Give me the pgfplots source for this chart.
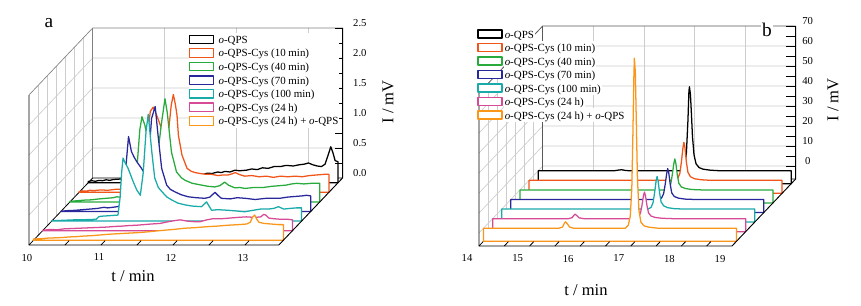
\documentclass[border=0pt]{standalone}
\usepackage{pgfplots}
\pgfplotsset{compat=1.18}
\usepackage{fontspec}
\setmainfont{Liberation Serif}
\definecolor{cK}{RGB}{0,0,0}
\definecolor{cR}{RGB}{240,85,25}
\definecolor{cG}{RGB}{40,170,60}
\definecolor{cB}{RGB}{40,40,155}
\definecolor{cC}{RGB}{25,170,170}
\definecolor{cP}{RGB}{215,75,150}
\definecolor{cO}{RGB}{250,150,25}
\definecolor{gridc}{RGB}{205,205,205}
\tikzset{
  wf/.style={line width=0.95pt, fill=white, line join=round},
  ticklab/.style={font=\fontsize{8}{9}\selectfont, inner sep=0pt},
}
\begin{document}
\begin{tikzpicture}[line join=round]
\useasboundingbox (0,0) rectangle (645.75pt,228.75pt);
% ===================== panel a =====================
\begin{axis}[
  at={(21.75pt,45pt)}, anchor=south west,
  x={(54pt,0pt)}, y={(6.825pt,7.18pt)}, z={(0pt,45pt)},
  xmin=10, xmax=13.47, ymin=0, ymax=7, zmin=0, zmax=2.5,
  hide axis, clip=false,
  legend cell align=left,
  legend style={at={(0.508,0.98)}, anchor=north west, draw=none, fill=white,
    inner sep=0pt, row sep=0pt, font=\fontsize{8.2}{10.7}\selectfont,
    nodes={inner sep=0.6pt},
    /tikz/every odd column/.append style={column sep=3pt}},
  legend image code/.code={\draw[#1] (0pt,-3.2pt) rectangle (18pt,3.2pt);},
]
\pgfplotsinvokeforeach{1,2,3,4,5,6}{\draw[gridc,line width=0.5pt] (axis cs:10,#1,0) -- (axis cs:10,#1,2.5);}
\pgfplotsinvokeforeach{0.5,1,1.5,2}{\draw[gridc,line width=0.5pt] (axis cs:10,0,#1) -- (axis cs:10,7,#1) -- (axis cs:13.47,7,#1);}
\pgfplotsinvokeforeach{11,12,13}{\draw[gridc,line width=0.5pt] (axis cs:#1,7,0) -- (axis cs:#1,7,2.5);}
\draw[gray,line width=0.5pt] (axis cs:10,0,2.5) -- (axis cs:10,7,2.5) -- (axis cs:13.47,7,2.5);
\draw[gray,line width=0.5pt] (axis cs:10,7,0) -- (axis cs:10,7,2.5);
\draw[black,line width=0.6pt] (axis cs:13.47,7,0) -- (axis cs:10,7,0) -- (axis cs:10,0,0);

\addplot3[wf, draw=cK] coordinates {(10,6.5,0) (10,6.5,0.02) (10.05,6.5,0.035) (10.1,6.5,0.025) (10.15,6.5,0.04) (10.2,6.5,0.035) (10.25,6.5,0.05) (10.3,6.5,0.04) (10.35,6.5,0.055) (10.42,6.5,0.06) (10.5,6.5,0.07) (10.6,6.5,0.08) (10.7,6.5,0.09) (10.8,6.5,0.1) (10.9,6.5,0.11) (11.0,6.5,0.12) (11.1,6.5,0.14) (11.2,6.5,0.15) (11.3,6.5,0.17) (11.35,6.5,0.17) (11.42,6.5,0.14) (11.5,6.5,0.13) (11.55,6.5,0.15) (11.6,6.5,0.14) (11.65,6.5,0.16) (11.72,6.5,0.155) (11.8,6.5,0.18) (11.85,6.5,0.17) (11.9,6.5,0.19) (11.97,6.5,0.18) (12.04,6.5,0.21) (12.1,6.5,0.2) (12.2,6.5,0.21) (12.27,6.5,0.23) (12.35,6.5,0.22) (12.42,6.5,0.25) (12.5,6.5,0.24) (12.58,6.5,0.27) (12.67,6.5,0.27) (12.75,6.5,0.29) (12.85,6.5,0.28) (12.93,6.5,0.3) (13.0,6.5,0.31) (13.06,6.5,0.33) (13.12,6.5,0.3) (13.18,6.5,0.28) (13.24,6.5,0.27) (13.29,6.5,0.31) (13.33,6.5,0.45) (13.37,6.5,0.6) (13.4,6.5,0.5) (13.43,6.5,0.37) (13.45,6.5,0.36) (13.47,6.5,0.35) (13.47,6.5,0)} -- cycle;
\addlegendentry{\strut\textit{o}-QPS}
\addplot3[wf, draw=cR] coordinates {(10,5.5,0) (10,5.5,0.01) (10.05,5.5,0.025) (10.1,5.5,0.02) (10.15,5.5,0.035) (10.2,5.5,0.03) (10.3,5.5,0.04) (10.4,5.5,0.035) (10.5,5.5,0.05) (10.6,5.5,0.055) (10.7,5.5,0.06) (10.8,5.5,0.08) (10.86,5.5,0.15) (10.9,5.5,0.4) (10.95,5.5,0.95) (10.99,5.5,1.35) (11.03,5.5,1.42) (11.08,5.5,1.28) (11.15,5.5,1.05) (11.18,5.5,0.92) (11.21,5.5,0.85) (11.25,5.5,1.1) (11.28,5.5,1.45) (11.31,5.5,1.63) (11.34,5.5,1.45) (11.36,5.5,1.29) (11.38,5.5,0.95) (11.43,5.5,0.62) (11.5,5.5,0.4) (11.56,5.5,0.35) (11.61,5.5,0.33) (11.7,5.5,0.31) (11.77,5.5,0.3) (11.84,5.5,0.3) (11.93,5.5,0.28) (12.0,5.5,0.29) (12.07,5.5,0.29) (12.13,5.5,0.31) (12.17,5.5,0.33) (12.22,5.5,0.3) (12.3,5.5,0.27) (12.4,5.5,0.28) (12.5,5.5,0.26) (12.6,5.5,0.27) (12.7,5.5,0.25) (12.8,5.5,0.27) (12.9,5.5,0.26) (13.0,5.5,0.27) (13.1,5.5,0.26) (13.2,5.5,0.28) (13.3,5.5,0.29) (13.4,5.5,0.3) (13.47,5.5,0.3) (13.47,5.5,0)} -- cycle;
\addlegendentry{\strut\textit{o}-QPS-Cys (10 min)}
\addplot3[wf, draw=cG] coordinates {(10,4.5,0) (10,4.5,0.01) (10.1,4.5,0.02) (10.2,4.5,0.03) (10.3,4.5,0.035) (10.4,4.5,0.05) (10.5,4.5,0.06) (10.6,4.5,0.07) (10.65,4.5,0.085) (10.72,4.5,0.08) (10.8,4.5,0.1) (10.87,4.5,0.12) (10.91,4.5,0.3) (10.94,4.5,0.72) (10.97,4.5,1.2) (11.0,4.5,1.42) (11.04,4.5,1.28) (11.07,4.5,1.11) (11.12,4.5,0.85) (11.18,4.5,0.72) (11.23,4.5,0.9) (11.27,4.5,1.3) (11.32,4.5,1.72) (11.35,4.5,1.5) (11.37,4.5,1.28) (11.41,4.5,0.83) (11.48,4.5,0.5) (11.55,4.5,0.4) (11.6,4.5,0.36) (11.7,4.5,0.31) (11.83,4.5,0.28) (11.92,4.5,0.26) (12.01,4.5,0.25) (12.08,4.5,0.27) (12.15,4.5,0.33) (12.2,4.5,0.28) (12.29,4.5,0.235) (12.36,4.5,0.24) (12.43,4.5,0.225) (12.55,4.5,0.24) (12.68,4.5,0.24) (12.8,4.5,0.26) (12.9,4.5,0.27) (13.0,4.5,0.28) (13.08,4.5,0.3) (13.15,4.5,0.31) (13.25,4.5,0.3) (13.35,4.5,0.31) (13.47,4.5,0.31) (13.47,4.5,0)} -- cycle;
\addlegendentry{\strut\textit{o}-QPS-Cys (40 min)}
\addplot3[wf, draw=cB] coordinates {(10,3.5,0) (10,3.5,0.005) (10.1,3.5,0.015) (10.2,3.5,0.02) (10.3,3.5,0.03) (10.4,3.5,0.04) (10.5,3.5,0.05) (10.6,3.5,0.07) (10.65,3.5,0.06) (10.72,3.5,0.07) (10.78,3.5,0.08) (10.84,3.5,0.1) (10.87,3.5,0.3) (10.9,3.5,0.7) (10.94,3.5,1.25) (10.98,3.5,1.0) (11.02,3.5,0.9) (11.06,3.5,0.82) (11.12,3.5,0.72) (11.17,3.5,0.62) (11.22,3.5,0.9) (11.26,3.5,1.55) (11.31,3.5,1.75) (11.35,3.5,1.27) (11.4,3.5,0.72) (11.47,3.5,0.44) (11.52,3.5,0.37) (11.58,3.5,0.33) (11.67,3.5,0.28) (11.77,3.5,0.245) (11.88,3.5,0.23) (12.0,3.5,0.22) (12.07,3.5,0.24) (12.14,3.5,0.32) (12.19,3.5,0.26) (12.23,3.5,0.22) (12.35,3.5,0.21) (12.45,3.5,0.23) (12.56,3.5,0.22) (12.7,3.5,0.2) (12.85,3.5,0.22) (13.04,3.5,0.22) (13.15,3.5,0.24) (13.25,3.5,0.25) (13.35,3.5,0.26) (13.41,3.5,0.27) (13.47,3.5,0.26) (13.47,3.5,0)} -- cycle;
\addlegendentry{\strut\textit{o}-QPS-Cys (70 min)}
\addplot3[wf, draw=cC] coordinates {(10,2.5,0) (10,2.5,0.005) (10.1,2.5,0.01) (10.2,2.5,0.015) (10.3,2.5,0.02) (10.4,2.5,0.02) (10.5,2.5,0.025) (10.62,2.5,0.03) (10.65,2.5,0.07) (10.68,2.5,0.08) (10.8,2.5,0.09) (10.92,2.5,0.1) (10.95,2.5,0.4) (10.97,2.5,0.8) (10.99,2.5,1.05) (11.02,2.5,0.97) (11.06,2.5,0.88) (11.13,2.5,0.66) (11.18,2.5,0.52) (11.23,2.5,0.43) (11.27,2.5,0.8) (11.31,2.5,1.5) (11.34,2.5,1.78) (11.37,2.5,1.4) (11.39,2.5,1.15) (11.43,2.5,0.72) (11.48,2.5,0.56) (11.53,2.5,0.49) (11.6,2.5,0.4) (11.67,2.5,0.35) (11.75,2.5,0.3) (11.85,2.5,0.27) (11.95,2.5,0.25) (12.08,2.5,0.24) (12.15,2.5,0.32) (12.22,2.5,0.18) (12.3,2.5,0.19) (12.45,2.5,0.18) (12.55,2.5,0.17) (12.68,2.5,0.155) (12.8,2.5,0.18) (12.9,2.5,0.2) (13.0,2.5,0.2) (13.08,2.5,0.21) (13.15,2.5,0.24) (13.22,2.5,0.2) (13.3,2.5,0.21) (13.4,2.5,0.22) (13.47,2.5,0.22) (13.47,2.5,0)} -- cycle;
\addlegendentry{\strut\textit{o}-QPS-Cys (100 min)}
\addplot3[wf, draw=cP] coordinates {(10,1.5,0) (10,1.5,0.005) (10.1,1.5,0.02) (10.2,1.5,0.015) (10.3,1.5,0.03) (10.4,1.5,0.035) (10.5,1.5,0.04) (10.6,1.5,0.045) (10.7,1.5,0.05) (10.8,1.5,0.055) (10.9,1.5,0.06) (11.0,1.5,0.07) (11.1,1.5,0.075) (11.2,1.5,0.085) (11.3,1.5,0.09) (11.4,1.5,0.1) (11.5,1.5,0.11) (11.63,1.5,0.12) (11.75,1.5,0.15) (11.85,1.5,0.17) (11.91,1.5,0.18) (12.0,1.5,0.16) (12.1,1.5,0.15) (12.19,1.5,0.15) (12.28,1.5,0.18) (12.37,1.5,0.2) (12.5,1.5,0.2) (12.6,1.5,0.21) (12.7,1.5,0.22) (12.83,1.5,0.23) (12.95,1.5,0.22) (13.03,1.5,0.23) (13.07,1.5,0.27) (13.1,1.5,0.26) (13.14,1.5,0.21) (13.2,1.5,0.2) (13.3,1.5,0.19) (13.4,1.5,0.19) (13.47,1.5,0.18) (13.47,1.5,0)} -- cycle;
\addlegendentry{\strut\textit{o}-QPS-Cys (24 h)}
\addplot3[wf, draw=cO] coordinates {(10,0.5,0) (10,0.5,0.02) (10.1,0.5,0.025) (10.2,0.5,0.035) (10.3,0.5,0.04) (10.4,0.5,0.045) (10.5,0.5,0.055) (10.6,0.5,0.06) (10.7,0.5,0.07) (10.8,0.5,0.075) (10.92,0.5,0.087) (11.05,0.5,0.1) (11.2,0.5,0.11) (11.35,0.5,0.12) (11.5,0.5,0.13) (11.63,0.5,0.145) (11.76,0.5,0.16) (11.85,0.5,0.17) (11.95,0.5,0.18) (12.1,0.5,0.2) (12.25,0.5,0.21) (12.4,0.5,0.225) (12.55,0.5,0.235) (12.7,0.5,0.25) (12.85,0.5,0.26) (12.96,0.5,0.27) (13.01,0.5,0.3) (13.04,0.5,0.38) (13.07,0.5,0.42) (13.1,0.5,0.35) (13.13,0.5,0.3) (13.2,0.5,0.28) (13.3,0.5,0.27) (13.4,0.5,0.26) (13.47,0.5,0.26) (13.47,0.5,0)} -- cycle;
\addlegendentry{\strut\textit{o}-QPS-Cys (24 h) + \textit{o}-QPS}

\draw[black,line width=0.7pt] (axis cs:10,0,2.5) -- (axis cs:10,0,0) -- (axis cs:13.47,0,0) -- (axis cs:13.47,7,0) -- (axis cs:13.47,7,2.5);
\pgfplotsinvokeforeach{10.5,11,11.5,12,12.5,13}{\draw[line width=0.6pt] (axis cs:#1,0,0) -- (axis cs:#1,0.45,0);}
\pgfplotsinvokeforeach{0.25,0.5,0.75,1,1.25,1.5,1.75,2,2.25,2.5}{\draw[line width=0.6pt] (axis cs:13.47,7,#1) -- (axis cs:13.37,7,#1);}
\pgfplotsinvokeforeach{10,11,12,13}{\node[ticklab, anchor=north, xshift=-1.5pt, yshift=-6.5pt] at (axis cs:#1,0,0) {#1};}
\pgfplotsinvokeforeach{0.0,0.5,1.0,1.5,2.0,2.5}{\node[ticklab, anchor=center, xshift=13pt, yshift=3.75pt] at (axis cs:13.47,7,#1) {#1};}
\end{axis}
% ===================== panel b =====================
\begin{axis}[
  at={(359.25pt,44.25pt)}, anchor=south west,
  x={(37.95pt,0pt)}, y={(6.825pt,7.18pt)}, z={(0pt,1.5pt)},
  xmin=14, xmax=19, ymin=0, ymax=7, zmin=-6.5, zmax=70,
  hide axis, clip=false,
  legend cell align=left,
  legend style={at={(-0.006,0.995)}, anchor=north west, draw=none, fill=none,
    inner sep=0pt, row sep=0pt, font=\fontsize{8.2}{10.6}\selectfont,
    nodes={inner sep=0.6pt, fill=white},
    /tikz/every odd column/.append style={column sep=1pt}},
  legend image code/.code={\draw[#1] (0pt,-3pt) rectangle (18pt,3pt);},
]
\pgfplotsinvokeforeach{1,2,3,4,5,6}{\draw[gridc,line width=0.5pt] (axis cs:14,#1,-6.5) -- (axis cs:14,#1,70);}
\pgfplotsinvokeforeach{0,10,20,30,40,50,60}{\draw[gridc,line width=0.5pt] (axis cs:14,0,#1) -- (axis cs:14,7,#1) -- (axis cs:19,7,#1);}
\pgfplotsinvokeforeach{15,16,17,18}{\draw[gridc,line width=0.5pt] (axis cs:#1,7,-6.5) -- (axis cs:#1,7,70);}
\draw[black!65,line width=0.6pt] (axis cs:14,0,70) -- (axis cs:14,7,70) -- (axis cs:19,7,70);
\draw[black!65,line width=0.6pt] (axis cs:14,7,-6.5) -- (axis cs:14,7,70);
\draw[black,line width=0.6pt] (axis cs:19,7,-6.5) -- (axis cs:14,7,-6.5) -- (axis cs:14,0,-6.5);

\addplot3[wf, draw=cK] coordinates {(14,6.5,-6.5) (14,6.5,0) (15.5,6.5,0) (15.6,6.5,0.4) (15.65,6.5,0.5) (15.72,6.5,0.2) (15.8,6.5,0) (16.8,6.5,0) (16.86,6.5,0.8) (16.9,6.5,3) (16.93,6.5,9) (16.96,6.5,25) (16.98,6.5,40) (16.99,6.5,42) (17.01,6.5,38) (17.03,6.5,28) (17.05,6.5,17) (17.08,6.5,8) (17.12,6.5,3.5) (17.18,6.5,1.6) (17.26,6.5,0.8) (17.4,6.5,0.3) (17.6,6.5,0) (19,6.5,0) (19,6.5,-6.5)} -- cycle;
\addlegendentry{\strut\textit{o}-QPS}
\addplot3[wf, draw=cR] coordinates {(14,5.5,-6.5) (14,5.5,0) (16.88,5.5,0) (16.94,5.5,1) (16.98,5.5,3.5) (17.01,5.5,9) (17.04,5.5,16) (17.06,5.5,19) (17.08,5.5,16.5) (17.11,5.5,9) (17.14,5.5,4) (17.19,5.5,1.8) (17.27,5.5,0.8) (17.4,5.5,0.3) (17.6,5.5,0) (19,5.5,0) (19,5.5,-6.5)} -- cycle;
\addlegendentry{\strut\textit{o}-QPS-Cys (10 min)}
\addplot3[wf, draw=cG] coordinates {(14,4.5,-6.5) (14,4.5,0) (16.88,4.5,0) (16.94,4.5,0.8) (16.98,4.5,3) (17.01,4.5,7.5) (17.04,4.5,13) (17.06,4.5,15.5) (17.08,4.5,13.5) (17.11,4.5,7.5) (17.14,4.5,3.3) (17.19,4.5,1.5) (17.27,4.5,0.7) (17.4,4.5,0.2) (17.6,4.5,0) (19,4.5,0) (19,4.5,-6.5)} -- cycle;
\addlegendentry{\strut\textit{o}-QPS-Cys (40 min)}
\addplot3[wf, draw=cB] coordinates {(14,3.5,-6.5) (14,3.5,0) (16.92,3.5,0) (16.98,3.5,0.8) (17.02,3.5,3) (17.05,3.5,7.5) (17.08,3.5,13) (17.1,3.5,15.5) (17.12,3.5,13.5) (17.15,3.5,7.5) (17.18,3.5,3.3) (17.23,3.5,1.5) (17.31,3.5,0.7) (17.44,3.5,0.2) (17.64,3.5,0) (19,3.5,0) (19,3.5,-6.5)} -- cycle;
\addlegendentry{\strut\textit{o}-QPS-Cys (70 min)}
\addplot3[wf, draw=cC] coordinates {(14,2.5,-6.5) (14,2.5,0) (16.89,2.5,0) (16.95,2.5,0.8) (16.99,2.5,3.2) (17.02,2.5,8) (17.05,2.5,14) (17.07,2.5,16.3) (17.09,2.5,14) (17.12,2.5,8) (17.15,2.5,3.5) (17.2,2.5,1.6) (17.28,2.5,0.7) (17.41,2.5,0.2) (17.61,2.5,0) (19,2.5,0) (19,2.5,-6.5)} -- cycle;
\addlegendentry{\strut\textit{o}-QPS-Cys (100 min)}
\addplot3[wf, draw=cP] coordinates {(14,1.5,-6.5) (14,1.5,0) (15.5,1.5,0) (15.57,1.5,0.5) (15.61,1.5,1.8) (15.63,1.5,2.2) (15.66,1.5,1.6) (15.71,1.5,0.4) (15.8,1.5,0) (16.82,1.5,0) (16.88,1.5,0.7) (16.92,1.5,2.7) (16.95,1.5,6.5) (16.98,1.5,11.3) (17.0,1.5,13.3) (17.02,1.5,11.5) (17.05,1.5,6.5) (17.08,1.5,2.9) (17.13,1.5,1.3) (17.21,1.5,0.6) (17.34,1.5,0.2) (17.55,1.5,0) (19,1.5,0) (19,1.5,-6.5)} -- cycle;
\addlegendentry{\strut\textit{o}-QPS-Cys (24 h)}
\addplot3[wf, draw=cO] coordinates {(14,0.5,-6.5) (14,0.5,0) (15.49,0.5,0) (15.56,0.5,0.6) (15.6,0.5,2.6) (15.62,0.5,3.2) (15.65,0.5,2.4) (15.7,0.5,0.6) (15.78,0.5,0) (16.8,0.5,0) (16.86,0.5,1.5) (16.9,0.5,6) (16.93,0.5,20) (16.95,0.5,45) (16.97,0.5,75) (16.98,0.5,85) (17.0,0.5,78) (17.02,0.5,52) (17.04,0.5,26) (17.07,0.5,9) (17.11,0.5,3) (17.17,0.5,1.2) (17.27,0.5,0.5) (17.45,0.5,0) (19,0.5,0) (19,0.5,-6.5)} -- cycle;
\addlegendentry{\strut\textit{o}-QPS-Cys (24 h) + \textit{o}-QPS}

\draw[black,line width=0.7pt] (axis cs:14,0,70) -- (axis cs:14,0,-6.5) -- (axis cs:19,0,-6.5) -- (axis cs:19,7,-6.5) -- (axis cs:19,7,70);
\pgfplotsinvokeforeach{14.5,15,15.5,16,16.5,17,17.5,18,18.5}{\draw[line width=0.6pt] (axis cs:#1,0,-6.5) -- (axis cs:#1,0.45,-6.5);}
\pgfplotsinvokeforeach{0,5,10,15,20,25,30,35,40,45,50,55,60,65,70}{\draw[line width=0.6pt] (axis cs:19,7,#1) -- (axis cs:18.8,7,#1);}
\pgfplotsinvokeforeach{14,15,16,17,18,19}{\node[ticklab, anchor=north, xshift=-9pt, yshift=-6.5pt] at (axis cs:#1,0,-6.5) {#1};}
\pgfplotsinvokeforeach{0,10,20,30,40,50,60,70}{\node[ticklab, anchor=center, xshift=9pt, yshift=3.75pt] at (axis cs:19,7,#1) {#1};}
\end{axis}
% ===================== labels =====================
\node[font=\fontsize{14.5}{16}\selectfont] at (36.75pt,211.5pt) {a};
\node[font=\fontsize{14.5}{16}\selectfont, fill=white, inner sep=1pt] at (575.25pt,206.25pt) {b};
\node[font=\fontsize{12.4}{14}\selectfont] at (99.75pt,21.75pt) {t / min};
\node[font=\fontsize{12.4}{14}\selectfont, rotate=90] at (291pt,152.25pt) {I / mV};
\node[font=\fontsize{12.4}{14}\selectfont] at (439.5pt,11.25pt) {t / min};
\node[font=\fontsize{12.4}{14}\selectfont, rotate=90] at (624.75pt,153.75pt) {I / mV};
\end{tikzpicture}
\end{document}
